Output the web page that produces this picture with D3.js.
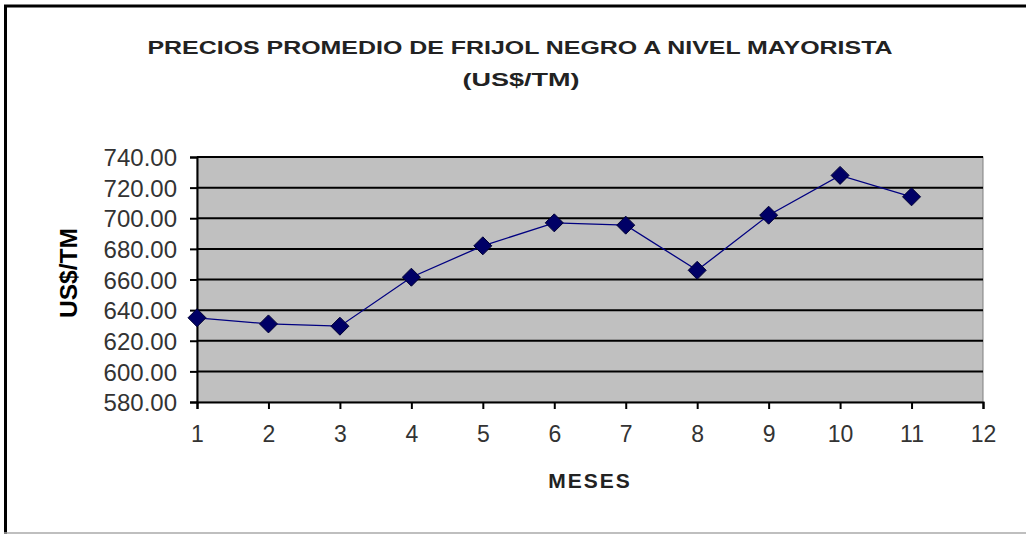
<!DOCTYPE html>
<html>
<head>
<meta charset="utf-8">
<script src="https://cdn.jsdelivr.net/npm/d3@7"></script>
<style>
  body { margin: 0; background: #fff; }
  text { font-family: "Liberation Sans", Arial, sans-serif; }
</style>
</head>
<body>
<script>
// data
const meses = [1, 2, 3, 4, 5, 6, 7, 8, 9, 10, 11];
const precios = [635, 631, 629.5, 661.5, 682, 697, 695.5, 666, 702, 728, 714];
const yTicks = [580, 600, 620, 640, 660, 680, 700, 720, 740];
const xTicks = [1, 2, 3, 4, 5, 6, 7, 8, 9, 10, 11, 12];

const W = 1026, H = 534;
const plot = { left: 197, right: 983, top: 157, bottom: 402 };

const svg = d3.select("body").append("svg")
  .attr("width", W)
  .attr("height", H);

// chart frame
svg.append("rect").attr("x", 0).attr("y", 0).attr("width", W).attr("height", H).attr("fill", "#fff");
svg.append("line").attr("x1", 5.5).attr("x2", 5.5).attr("y1", 5).attr("y2", H)
  .attr("stroke", "#000").attr("stroke-width", 3);
svg.append("line").attr("x1", 4).attr("x2", W).attr("y1", 6).attr("y2", 6)
  .attr("stroke", "#000").attr("stroke-width", 3);
svg.append("line").attr("x1", 4).attr("x2", W).attr("y1", 533).attr("y2", 533)
  .attr("stroke", "#aaa").attr("stroke-width", 1.5);

const x = d3.scaleLinear().domain([1, 12]).range([plot.left, plot.right]);
const y = d3.scaleLinear().domain([580, 740]).range([plot.bottom, plot.top]);

// plot area
svg.append("rect")
  .attr("x", plot.left).attr("y", plot.top)
  .attr("width", plot.right - plot.left).attr("height", plot.bottom - plot.top)
  .attr("fill", "#c0c0c0").attr("stroke", "#808080").attr("stroke-width", 1);

// gridlines
svg.append("g").selectAll("line")
  .data(yTicks.slice(1))
  .enter().append("line")
  .attr("x1", plot.left).attr("x2", plot.right)
  .attr("y1", d => y(d)).attr("y2", d => y(d))
  .attr("stroke", "#000").attr("stroke-width", 2);

// axes
const yAxis = svg.append("g")
  .attr("transform", `translate(${plot.left},0)`)
  .call(d3.axisLeft(y).tickValues(yTicks).tickFormat(d3.format(".2f")).tickSize(7).tickPadding(13));
const xAxis = svg.append("g")
  .attr("transform", `translate(0,${plot.bottom})`)
  .call(d3.axisBottom(x).tickValues(xTicks).tickFormat(d3.format("d")).tickSize(7).tickPadding(17));

[yAxis, xAxis].forEach(g => {
  g.select(".domain").attr("stroke", "#000").attr("stroke-width", 2);
  g.selectAll(".tick line").attr("stroke", "#000").attr("stroke-width", 2);
  g.selectAll("text").attr("fill", "#333")
    .attr("font-family", "'Liberation Sans', Arial, sans-serif");
});
yAxis.selectAll("text").attr("font-size", 24).attr("dy", "0.36em");
xAxis.selectAll("text").attr("font-size", 23);

// series
const pts = meses.map((m, i) => ({ m, v: precios[i] }));
svg.append("path")
  .datum(pts)
  .attr("fill", "none")
  .attr("stroke", "#000080")
  .attr("stroke-width", 1.3)
  .attr("d", d3.line().x(d => x(d.m)).y(d => y(d.v)));

svg.append("g").selectAll("path")
  .data(pts)
  .enter().append("path")
  .attr("transform", d => `translate(${x(d.m)},${y(d.v)})`)
  .attr("d", "M0,-9L9,0L0,9L-9,0Z")
  .attr("fill", "#000066")
  .attr("stroke", "#000033")
  .attr("stroke-width", 1);

// titles
svg.append("text")
  .attr("x", 520).attr("y", 54)
  .attr("text-anchor", "middle")
  .attr("font-size", 19).attr("font-weight", "bold").attr("fill", "#222")
  .attr("textLength", 745).attr("lengthAdjust", "spacingAndGlyphs")
  .text("PRECIOS PROMEDIO DE FRIJOL NEGRO A NIVEL MAYORISTA");
svg.append("text")
  .attr("x", 521).attr("y", 86)
  .attr("text-anchor", "middle")
  .attr("font-size", 19).attr("font-weight", "bold").attr("fill", "#222")
  .attr("textLength", 117).attr("lengthAdjust", "spacingAndGlyphs")
  .text("(US$/TM)");

svg.append("text")
  .attr("x", 590).attr("y", 488)
  .attr("text-anchor", "middle")
  .attr("font-size", 21).attr("font-weight", "bold").attr("fill", "#222")
  .attr("letter-spacing", 2)
  .text("MESES");

svg.append("text")
  .attr("transform", "translate(77,273) rotate(-90)")
  .attr("text-anchor", "middle")
  .attr("font-size", 24).attr("font-weight", "bold").attr("fill", "#000")
  .attr("textLength", 90).attr("lengthAdjust", "spacingAndGlyphs")
  .text("US$/TM");
</script>
</body>
</html>
